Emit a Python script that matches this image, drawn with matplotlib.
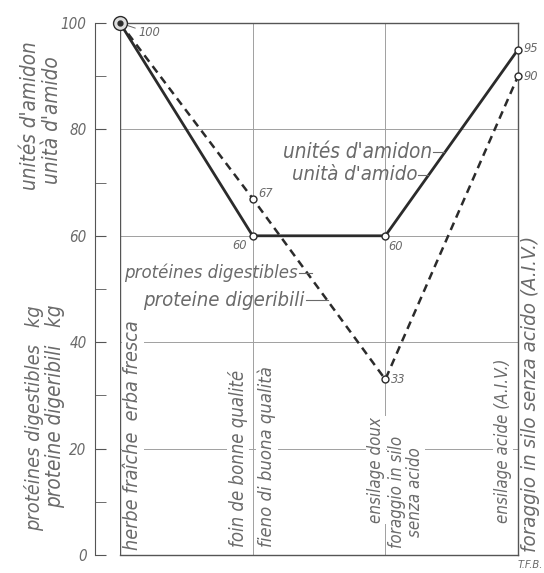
import matplotlib
matplotlib.use("Agg")
import matplotlib.pyplot as plt
from matplotlib import font_manager as fm
from matplotlib.ticker import MultipleLocator

# --- donnees ---
x_pos = [0, 1, 2, 3]
amidon = [100, 60, 60, 95]       # unités d'amidon
proteines = [100, 67, 33, 90]    # protéines digestibles (kg)

cat_fr = ["herbe fraîche  erba fresca", "foin de bonne qualité", "ensilage doux", "ensilage acide (A.I.V.)"]
cat_it = ["", "fieno di buona qualità", "foraggio in silo\nsenza acido", "foraggio in silo senza acido (A.I.V.)"]

TXT = "#6a6a6a"
LIN = "#2b2b2b"
GRD = "#a0a0a0"

# police etroite si disponible
dispo = {(f.name, f.stretch) for f in fm.fontManager.ttflist}
noms = {n for n, s in dispo}
if 'Liberation Sans Narrow' in noms:
    plt.rcParams['font.family'] = ['Liberation Sans Narrow', 'DejaVu Sans']
elif ('DejaVu Sans', 'condensed') in dispo:
    plt.rcParams['font.family'] = ['DejaVu Sans']
    plt.rcParams['font.stretch'] = 'condensed'
elif 'Roboto Condensed' in noms:
    plt.rcParams['font.family'] = ['Roboto Condensed', 'DejaVu Sans']
else:
    plt.rcParams['font.family'] = ['DejaVu Sans']
plt.rcParams['font.style'] = 'italic'

W, H = 544, 573
fig = plt.figure(figsize=(W / 100, H / 100), dpi=100)
ax = fig.add_axes([120 / W, 1 - 555 / H, 398 / W, 532 / H])
ax.set_xlim(0, 3)
ax.set_ylim(0, 100)

def fx(px):
    return px / W

def fy(py):
    return 1 - py / H

# cadre et grille
for s in ['top', 'right', 'bottom']:
    ax.spines[s].set_color("#555555")
    ax.spines[s].set_linewidth(1.0)
ax.spines['left'].set_position(('outward', 18))
ax.spines['left'].set_color("#555555")
ax.axvline(0, color="#555555", lw=1.0, zorder=1)
for g in [20, 40, 60, 80]:
    ax.axhline(g, color=GRD, lw=0.7, zorder=0)
for v in [1, 2]:
    ax.axvline(v, color=GRD, lw=0.7, zorder=0)

ax.set_xticks([])
ax.yaxis.set_major_locator(MultipleLocator(20))
ax.yaxis.set_minor_locator(MultipleLocator(10))
ax.tick_params(axis='y', which='both', direction='in', length=8, color="#555555",
               labelcolor=TXT, labelsize=11, pad=6)

# courbes
ax.plot(x_pos, amidon, color=LIN, lw=2.0, zorder=3, clip_on=False)
ax.plot(x_pos, proteines, color=LIN, lw=1.8, ls=(0, (3.2, 2.2)), zorder=3, clip_on=False)
ax.plot(x_pos[1:], amidon[1:], 'o', ms=5, mfc='white', mec=LIN, mew=1, zorder=4, clip_on=False)
ax.plot(x_pos[1:], proteines[1:], 'o', ms=5, mfc='white', mec=LIN, mew=1, zorder=4, clip_on=False)
ax.plot(x_pos[0], amidon[0], 'o', ms=10, mfc='#dddddd', mec=LIN, mew=1, zorder=4, clip_on=False)
ax.plot(x_pos[0], amidon[0], 'o', ms=3.5, color=LIN, zorder=5, clip_on=False)

# valeurs
vals = [
    (x_pos[0], amidon[0], (13, -7), 'left'),
    (x_pos[1], proteines[1], (4, 4), 'left'),
    (x_pos[1], amidon[1], (-4, -7), 'right'),
    (x_pos[2], amidon[2], (2, -8), 'left'),
    (x_pos[2], proteines[2], (4, 0), 'left'),
    (x_pos[3], amidon[3], (4, 1), 'left'),
    (x_pos[3], proteines[3], (4, 0), 'left'),
]
val_txt = []
for i, (xx, yy, off, ha) in enumerate(vals):
    arr = dict(arrowstyle='-', color=TXT, lw=0.7, shrinkA=0, shrinkB=3) if i == 0 else None
    t = ax.annotate(str(yy), (xx, yy), xytext=off, textcoords='offset points', ha=ha, va='center',
                    fontsize=10, color=TXT, arrowprops=arr, annotation_clip=False)
    val_txt.append(t)

tous = []

# legendes dans le graphique
leg = [
    ("unités d'amidon", 432, 152, 444, 149),
    ("unità d'amido", 417, 175, 428, 125),
    ("protéines digestibles", 298, 273, 312, 173),
    ("proteine digeribili", 305, 300, 328, 160),
]
for lab, xr, yc, x_fin, lg in leg:
    t = fig.text(fx(xr), fy(yc), lab, ha='right', va='center', fontsize=13, color=TXT)
    tous.append((t, lg, 'w'))
    fig.add_artist(plt.Line2D([fx(xr + 1), fx(x_fin)], [fy(yc), fy(yc)], color=TXT, lw=0.8))

# libelles des categories
box = dict(facecolor='white', edgecolor='none', pad=1)
cat_spots = [
    (cat_fr[0], 133, 550, 230),
    (cat_fr[1], 238, 547, 177),
    (cat_it[1], 267, 547, 180),
    (cat_fr[2], 376, 523, 90),
    (cat_it[2], 406, 548, 110),
    (cat_fr[3], 503, 523, 151),
    (cat_it[3], 531, 552, 315),
]
for lab, px, py, lg in cat_spots:
    t = fig.text(fx(px), fy(py), lab, rotation=90, ha='center', va='bottom', fontsize=13,
                 color=TXT, bbox=box, linespacing=0.95, zorder=2)
    tous.append((t, lg, 'h'))

# titres d'axe
titres = [
    ("unités d'amidon", 30, 116, 'center', 148),
    ("unità d'amido", 52, 120, 'center', 130),
    ("protéines digestibles   kg", 34, 305, 'top', 225),
    ("proteine digeribili   kg", 55, 305, 'top', 208),
]
for lab, px, py, va, lg in titres:
    t = fig.text(fx(px), fy(py), lab, rotation=90, ha='center', va=va, fontsize=13, color=TXT)
    tous.append((t, lg, 'h'))

fig.text(fx(530), fy(565), "T.F.B.", ha='center', va='center', fontsize=8, color=TXT)

# taille du lettrage : proche des longueurs de l'original, sans trop s'ecarter
# de la taille de base ("unités d'amidon" ~149 px)
fig.canvas.draw()
r = fig.canvas.get_renderer()
base = 13 * 149 / tous[0][0].get_window_extent(r).width
for t, lg, dim in tous:
    bb = t.get_window_extent(r)
    mesure = bb.width if dim == 'w' else bb.height
    fit = t.get_fontsize() * lg / mesure
    t.set_fontsize(min(max(fit, 0.82 * base), base))

# chiffres : "100" des graduations ~26 px, valeurs un peu plus petites
lab100 = [l for l in ax.get_yticklabels() if l.get_text() == '100'][0]
t_chif = 11 * 26 / lab100.get_window_extent(r).width
ax.tick_params(axis='y', labelsize=t_chif)
for t in val_txt:
    t.set_fontsize(t_chif * 22 / 26)

fig.savefig("out.png", dpi=100, facecolor='white')
